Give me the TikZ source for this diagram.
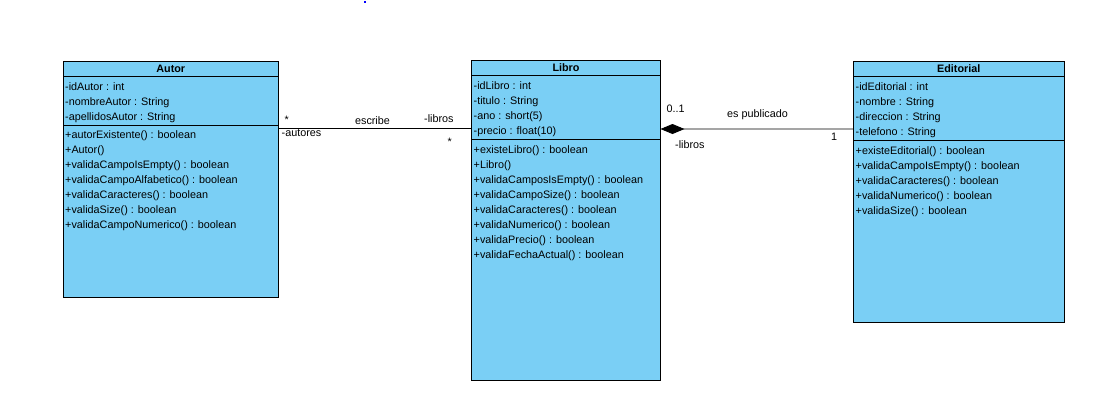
\documentclass[tikz,border=0pt]{standalone}
\usepackage{fontspec}
\setmainfont{Liberation Sans}
\usetikzlibrary{calc,arrows.meta}
\definecolor{umlblue}{RGB}{122,207,245}
\begin{document}
\begin{tikzpicture}[x=1bp,y=-1bp,
  box/.style={draw=black, fill=umlblue, line width=0.9bp, inner sep=0pt, outer sep=0pt, anchor=north west},
  mem/.style={inner sep=0pt, anchor=base west, font=\fontsize{10.8bp}{13bp}\selectfont},
  title/.style={inner sep=0pt, anchor=base, font=\fontsize{10.8bp}{13bp}\selectfont\bfseries},
  lbl/.style={inner sep=0pt, anchor=base west, font=\fontsize{10.8bp}{13bp}\selectfont},
  sep/.style={draw=black, line width=0.9bp},
  conn/.style={draw=black, line width=0.9bp}]

\useasboundingbox (0,0) rectangle (1105,417);
\fill[blue] (363.5,1) rectangle (365.5,3);

% ---------- Autor ----------
\node[box, minimum width=215.5bp, minimum height=236bp] (autor) at (63,61.5) {};
\draw[sep] ($(autor.north west)+(0,15)$) -- ($(autor.north east)+(0,15)$);
\draw[sep] ($(autor.north west)+(0,64)$) -- ($(autor.north east)+(0,64)$);
\node[title] (autor-t) at ($(autor.north)+(0,11)$) {Autor};
\foreach \t [count=\i from 0] in {-idAutor : int,-nombreAutor : String,-apellidosAutor : String}
  \node[mem] (autor-a\i) at ($(autor.north west)+(2,28.5+15*\i)$) {\t};
\foreach \t [count=\i from 0] in {+autorExistente() : boolean,+Autor(),+validaCampoIsEmpty() : boolean,+validaCampoAlfabetico() : boolean,+validaCaracteres() : boolean,+validaSize() : boolean,+validaCampoNumerico() : boolean}
  \node[mem] (autor-m\i) at ($(autor.north west)+(2,77+15*\i)$) {\t};

% ---------- Libro ----------
\node[box, minimum width=189bp, minimum height=319.5bp] (libro) at (471.5,60.5) {};
\draw[sep] ($(libro.north west)+(0,15)$) -- ($(libro.north east)+(0,15)$);
\draw[sep] ($(libro.north west)+(0,79)$) -- ($(libro.north east)+(0,79)$);
\node[title] (libro-t) at ($(libro.north)+(0,11)$) {Libro};
\foreach \t [count=\i from 0] in {-idLibro : int,-titulo : String,-ano : short(5),-precio : float(10)}
  \node[mem] (libro-a\i) at ($(libro.north west)+(2,28.5+15*\i)$) {\t};
\foreach \t [count=\i from 0] in {+existeLibro() : boolean,+Libro(),+validaCamposIsEmpty() : boolean,+validaCampoSize() : boolean,+validaCaracteres() : boolean,+validaNumerico() : boolean,+validaPrecio() : boolean,+validaFechaActual() : boolean}
  \node[mem] (libro-m\i) at ($(libro.north west)+(2,92.5+15*\i)$) {\t};

% ---------- Editorial ----------
\node[box, minimum width=210.5bp, minimum height=261bp] (edit) at (853.5,61) {};
\draw[sep] ($(edit.north west)+(0,15.5)$) -- ($(edit.north east)+(0,15.5)$);
\draw[sep] ($(edit.north west)+(0,79.5)$) -- ($(edit.north east)+(0,79.5)$);
\node[title] (edit-t) at ($(edit.north)+(0,11.5)$) {Editorial};
\foreach \t [count=\i from 0] in {-idEditorial : int,-nombre : String,-direccion : String,-telefono : String}
  \node[mem] (edit-a\i) at ($(edit.north west)+(2,29+15*\i)$) {\t};
\foreach \t [count=\i from 0] in {+existeEditorial() : boolean,+validaCampoIsEmpty() : boolean,+validaCaracteres() : boolean,+validaNumerico() : boolean,+validaSize() : boolean}
  \node[mem] (edit-m\i) at ($(edit.north west)+(2,93+15*\i)$) {\t};

% ---------- connectors ----------
\coordinate (a1) at ($(autor.north east)+(0,67)$);
\coordinate (l1) at ($(libro.north west)+(0,68)$);
\draw[conn] (a1) -- (l1);

\coordinate (l2) at ($(libro.north east)+(0,68.5)$);
\coordinate (e2) at ($(edit.north west)+(0,68)$);
\draw[conn, -{Diamond[length=24bp,width=10bp,fill=black]}] (e2) -- (l2);

% ---------- labels ----------
\node[lbl] (m1) at (284.5,123) {*};
\node[lbl, anchor=base] (esc) at (372.5,124) {escribe};
\node[lbl] (r1) at (424,122.5) {-libros};
\node[lbl] (r2) at (281.5,136.5) {-autores};
\node[lbl] (m2) at (447.5,145) {*};

\node[lbl] (m3) at (666.5,112) {0..1};
\node[lbl] (pub) at (727,117.5) {es publicado};
\node[lbl] (m4) at (831,140) {1};
\node[lbl] (r3) at (675,148) {-libros};
\end{tikzpicture}
\end{document}
